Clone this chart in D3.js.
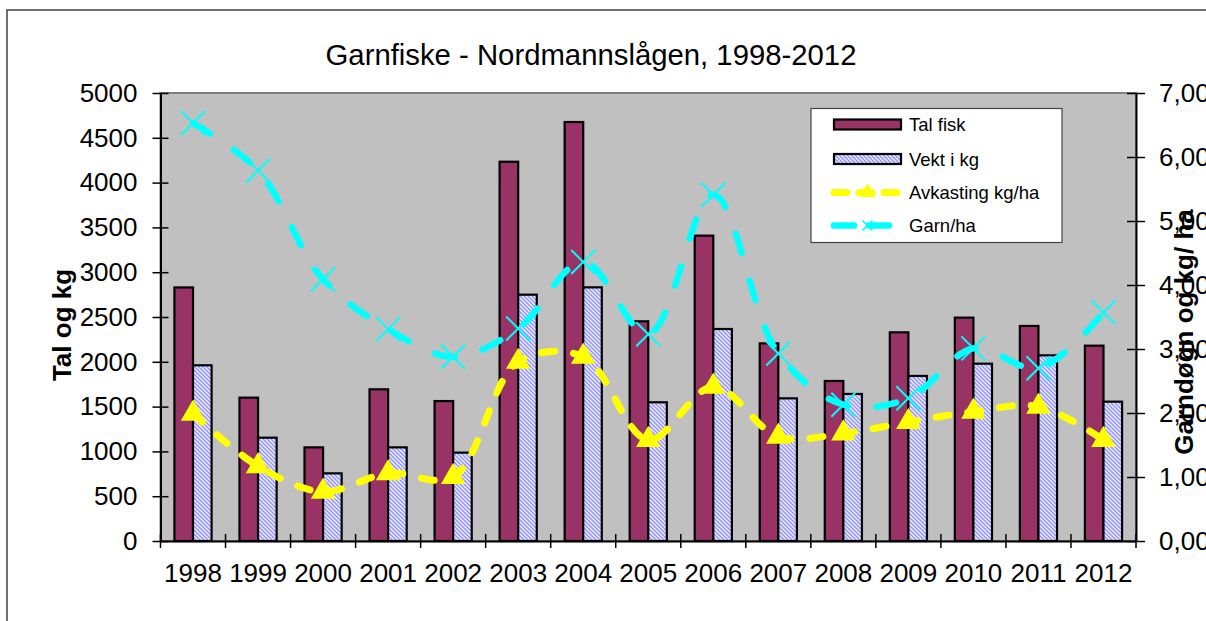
<!DOCTYPE html>
<html><head><meta charset="utf-8">
<script src="https://cdn.jsdelivr.net/npm/d3@7"></script>
<style>body{margin:0;background:#fff;overflow:hidden}svg{display:block;font-family:"Liberation Sans",Arial,sans-serif}</style>
</head><body><svg id="c" width="1206" height="621"></svg>
<script>
const years = ["1998","1999","2000","2001","2002","2003","2004","2005","2006","2007","2008","2009","2010","2011","2012"];
const talFisk = [2830,1600,1045,1693,1562,4233,4676,2452,3408,2206,1786,2329,2493,2400,2180];
const vektKg = [1961,1153,755,1045,986,2749,2831,1548,2366,1592,1641,1842,1979,2072,1555];
const avkasting = [1.99,1.17,0.77,1.06,1.00,2.80,2.88,1.58,2.41,1.63,1.68,1.86,2.02,2.10,1.58];
const garnHa = [6.53,5.79,4.09,3.31,2.88,3.32,4.36,3.23,5.41,2.93,2.13,2.23,3.01,2.70,3.57];
const leftTicks = [0,500,1000,1500,2000,2500,3000,3500,4000,4500,5000];
const rightTicks = [0,1,2,3,4,5,6,7];
const seriesNames = ["Tal fisk","Vekt i kg","Avkasting kg/ha","Garn/ha"];

const svg = d3.select("#c");
const L = 160.5, R = 1136, T = 93, B = 541;
const x = d3.scaleBand().domain(years).range([L, R]).paddingInner(0).paddingOuter(0);
const step = x.step();
const w = step/3.5;
const xs = d3.scaleBand().domain([0,1]).range([0.75*w, 2.75*w]);
const yL = d3.scaleLinear().domain([0,5000]).range([B, T]);
const yR = d3.scaleLinear().domain([0,7]).range([B, T]);

const defs = svg.append("defs");
const pat = defs.append("pattern").attr("id","hatch").attr("patternUnits","userSpaceOnUse").attr("width",4).attr("height",4);
pat.append("rect").attr("width",4).attr("height",4).attr("fill","#fff");
pat.append("path").attr("d","M0,0L4,4M-1,3L1,5M3,-1L5,1").attr("stroke","#9999ff").attr("stroke-width",1.7);

svg.append("rect").attr("x",7).attr("y",10).attr("width",1300).attr("height",700).attr("fill","none").attr("stroke","#444").attr("stroke-width",1.5);

svg.append("rect").attr("x",L).attr("y",T).attr("width",R-L).attr("height",B-T).attr("fill","#c0c0c0").attr("stroke","#808080").attr("stroke-width",2);

const cols = [{d:talFisk, fill:"#993366"},{d:vektKg, fill:"url(#hatch)"}];
cols.forEach((s,si)=>{
  svg.append("g").selectAll("rect").data(s.d).join("rect")
    .attr("x",(v,i)=>x(years[i])+xs(si))
    .attr("y",v=>yL(v))
    .attr("width",xs.bandwidth())
    .attr("height",v=>B-yL(v))
    .attr("fill",s.fill).attr("stroke","#000").attr("stroke-width",2.2);
});

const gL = svg.append("g").attr("transform",`translate(${L},0)`)
  .call(d3.axisLeft(yL).tickValues(leftTicks).tickFormat(d3.format("d")).tickSizeInner(8).tickSizeOuter(0).tickPadding(15));
const gR = svg.append("g").attr("transform",`translate(${R},0)`)
  .call(d3.axisRight(yR).tickValues(rightTicks).tickFormat(d=>d3.format(".2f")(d).replace(".",",")).tickSizeInner(9).tickSizeOuter(0).tickPadding(14));
const gB = svg.append("g").attr("transform",`translate(0,${B})`)
  .call(d3.axisBottom(x).tickValues([]).tickSizeOuter(0));
[gL,gR,gB].forEach(g=>{g.select(".domain").attr("stroke","#000").attr("stroke-width",2);
  g.selectAll("text").attr("font-size",26).attr("fill","#000").attr("font-family","Liberation Sans, Arial, sans-serif");
  g.selectAll(".tick line").attr("stroke","#000").attr("stroke-width",1.5);});
gL.selectAll(".tick line").attr("x1",8).attr("x2",-8);
gR.selectAll(".tick line").attr("x1",-9).attr("x2",9);
const bnd = years.map(y=>x(y)).concat([R]);
svg.append("g").selectAll("line").data(bnd).join("line")
  .attr("x1",d=>d).attr("x2",d=>d).attr("y1",B-7).attr("y2",B+7).attr("stroke","#000").attr("stroke-width",1.5);
svg.append("g").selectAll("text").data(years).join("text")
  .attr("x",d=>x(d)+step/2).attr("y",582).attr("text-anchor","middle").attr("font-size",26).text(d=>d);

const curve = d3.curveCatmullRom.alpha(0.5);
const lineY = d3.line().x((v,i)=>x(years[i])+step/2).y(v=>yR(v)).curve(curve);
svg.append("path").attr("d",lineY(avkasting)).attr("fill","none").attr("stroke","#ffff00").attr("stroke-width",7)
  .attr("stroke-linecap","round").attr("stroke-dasharray","13,19");
const tri = d3.symbol().type(d3.symbolTriangle).size(260);
svg.append("g").selectAll("path").data(avkasting).join("path")
  .attr("transform",(v,i)=>`translate(${x(years[i])+step/2},${yR(v)})`).attr("d",tri()).attr("fill","#ffff00");

svg.append("path").attr("d",lineY(garnHa)).attr("fill","none").attr("stroke","#00ffff").attr("stroke-width",6.5)
  .attr("stroke-linecap","round").attr("stroke-dasharray","20,29");
svg.append("g").selectAll("path").data(garnHa).join("path")
  .attr("transform",(v,i)=>`translate(${x(years[i])+step/2},${yR(v)})`)
  .attr("d","M-12,-12L12,12M-12,12L12,-12").attr("stroke","#00ffff").attr("stroke-width",2).attr("fill","none");

svg.append("text").attr("x",591).attr("y",65).attr("text-anchor","middle").attr("font-size",29.3).text("Garnfiske - Nordmannslågen, 1998-2012");
svg.append("text").attr("transform","translate(71,325) rotate(-90)").attr("text-anchor","middle").attr("font-size",26).attr("font-weight","bold").text("Tal og kg");
svg.append("text").attr("transform","translate(1193,332) rotate(-90)").attr("text-anchor","middle").attr("font-size",26).attr("font-weight","bold").text("Garndøgn og kg/ ha");

const lg = svg.append("g");
lg.append("rect").attr("x",811).attr("y",108.5).attr("width",251).attr("height",134).attr("fill","#fff").attr("stroke","#444").attr("stroke-width",1.2);
const rowY = [124.5,159,192.5,225.5];
const sx0 = 834, sx1 = 901;
lg.append("rect").attr("x",sx0).attr("y",rowY[0]-5).attr("width",sx1-sx0).attr("height",10).attr("fill","#993366").attr("stroke","#000").attr("stroke-width",2.2);
lg.append("rect").attr("x",sx0).attr("y",rowY[1]-5).attr("width",sx1-sx0).attr("height",10).attr("fill","url(#hatch)").attr("stroke","#000").attr("stroke-width",2.2);
lg.append("path").attr("d",`M${sx0},${rowY[2]}L${sx1},${rowY[2]}`).attr("stroke","#ffff00").attr("stroke-width",7).attr("stroke-linecap","round").attr("stroke-dasharray","13,12");
lg.append("path").attr("transform",`translate(${(sx0+sx1)/2},${rowY[2]})`).attr("d",d3.symbol().type(d3.symbolTriangle).size(110)()).attr("fill","#ffff00");
lg.append("path").attr("d",`M${sx0},${rowY[3]}L${sx1},${rowY[3]}`).attr("stroke","#00ffff").attr("stroke-width",6.5).attr("stroke-linecap","round").attr("stroke-dasharray","20,15");
lg.append("path").attr("transform",`translate(${(sx0+sx1)/2},${rowY[3]})`).attr("d","M-5,-5L5,5M-5,5L5,-5").attr("stroke","#00ffff").attr("stroke-width",1.6);
lg.selectAll("text.lt").data(seriesNames).join("text").attr("class","lt")
  .attr("x",909).attr("y",(d,i)=>rowY[i]+6.5).attr("font-size",18.5).text(d=>d);
</script></body></html>
